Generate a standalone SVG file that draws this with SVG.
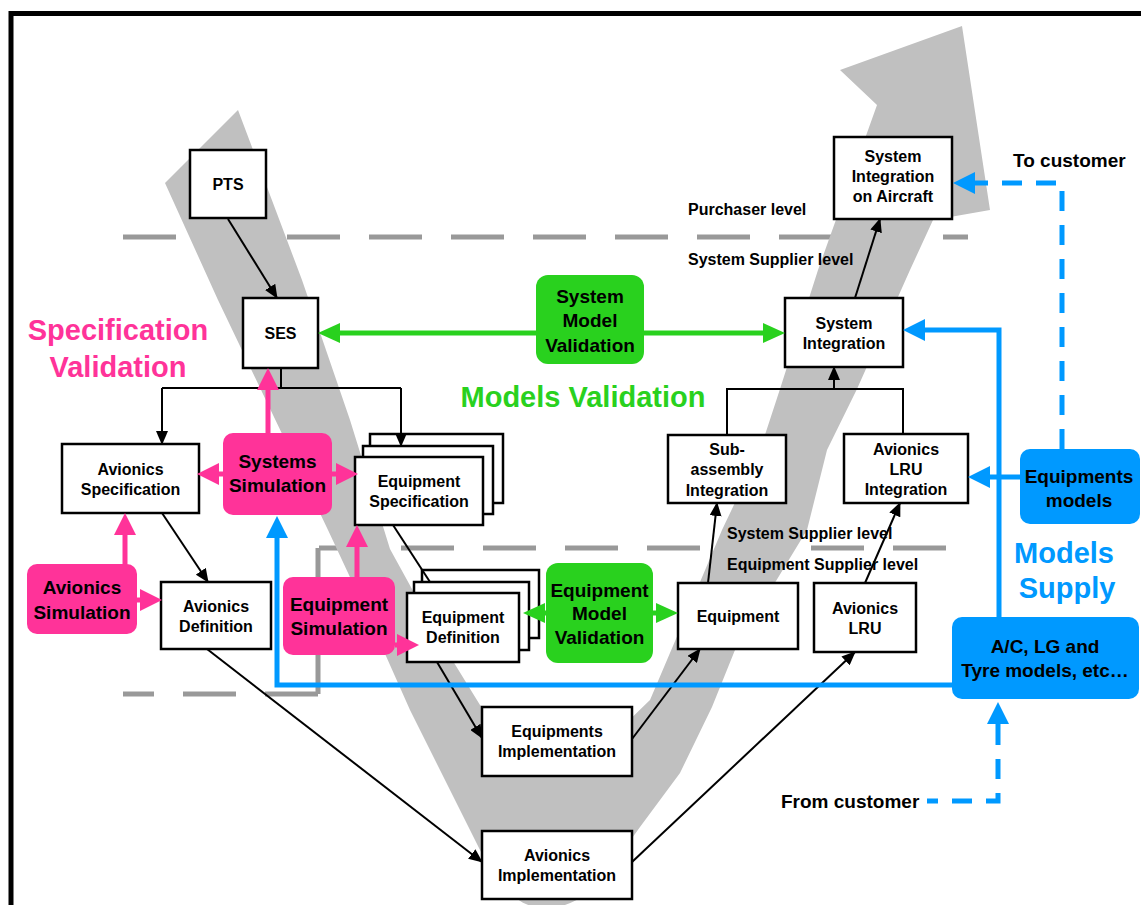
<svg xmlns="http://www.w3.org/2000/svg" width="1141" height="905" viewBox="0 0 1141 905">
<defs>
<style>
.box{fill:#fff;stroke:#000;stroke-width:2.5}
.pk{fill:#ff3399}
.gr{fill:#29d11e}
.bl{fill:#0099ff}
.t{font-family:"Liberation Sans",Arial,Helvetica,sans-serif;font-weight:bold;font-size:16px;text-anchor:middle;fill:#000}
.m{font-size:19px}
.big{font-size:29px}
.st{text-anchor:start}
.c{fill:none;stroke:#000;stroke-width:2}
.cp{fill:none;stroke:#ff3399;stroke-width:5}
.cg{fill:none;stroke:#29d11e;stroke-width:5}
.cb{fill:none;stroke:#0099ff;stroke-width:5}
.cbd{fill:none;stroke:#0099ff;stroke-width:5;stroke-dasharray:20 14}
.gd{fill:none;stroke:#999;stroke-width:5}
</style>
<marker id="ab" markerUnits="userSpaceOnUse" viewBox="0 0 14 12" markerWidth="14" markerHeight="12" refX="13" refY="6" orient="auto"><path d="M0,0 L14,6 L0,12 z" fill="#000"/></marker>
<marker id="ap" markerUnits="userSpaceOnUse" viewBox="0 0 22 22" markerWidth="22" markerHeight="22" refX="12" refY="11" orient="auto"><path d="M0,0 L22,11 L0,22 z" fill="#ff3399"/></marker>
<marker id="ag" markerUnits="userSpaceOnUse" viewBox="0 0 22 22" markerWidth="22" markerHeight="22" refX="12" refY="11" orient="auto"><path d="M0,1 L22,11 L0,21 z" fill="#29d11e"/></marker>
<marker id="abl" markerUnits="userSpaceOnUse" viewBox="0 0 22 22" markerWidth="22" markerHeight="22" refX="12" refY="11" orient="auto"><path d="M0,0 L22,11 L0,22 z" fill="#0099ff"/></marker>
</defs>
<rect width="1141" height="905" fill="#fff"/>
<g id="level-lines">
<path class="gd" d="M123,237 H968" stroke-dasharray="53 29"/>
<path class="gd" d="M946,548 H318" stroke-dasharray="53 29"/>
<path class="gd" d="M318,548 V694"/>
<path class="gd" d="M318,694 H123" stroke-dasharray="53 29"/>
</g>
<path id="v-band" fill="#c0c0c0" d="M165,183 L238,110 L302,280 L350,420 L390,549 L440,640 L480,705 Q525,745 565,772 Q605,745 650,700 L684,620 L722,530 L760,450 L780,389 L818,270 L877,105 L840,70 L962,26 L990,210 L933,220 L910,270 L857,389 L827,450 L807,530 L737,645 L712,707 L680,773 L640,827 L607,873 C590,895 570,908 545,908 C520,908 500,890 480,850 L440,770 L410,710 L370,620 L328,530 L285,440 L218,300 Z"/>
<path id="frame" d="M11,905 V13.5 H1141" fill="none" stroke="#000" stroke-width="5"/>
<g id="labels" class="t">
<text class="t st" x="688" y="215">Purchaser level</text>
<text class="t st" x="688" y="265">System Supplier level</text>
<text class="t st" x="727" y="539">System Supplier level</text>
<text class="t st" x="727" y="570">Equipment Supplier level</text>
<text class="t m st" x="1013" y="167">To customer</text>
<text class="t m st" x="781" y="808">From customer</text>
<text class="t big" x="118" y="340" fill="#ff3399" style="fill:#ff3399">Specification</text>
<text class="t big" x="118" y="377" style="fill:#ff3399">Validation</text>
<text class="t big" x="583" y="407" style="fill:#29d11e">Models Validation</text>
<text class="t big" x="1064" y="563" style="fill:#0099ff">Models</text>
<text class="t big" x="1067" y="598" style="fill:#0099ff">Supply</text>
</g>
<g id="nodes">
<g id="pts"><rect class="box" x="190" y="150" width="76" height="68"/><text class="t" x="228" y="190">PTS</text></g>
<g id="ses"><rect class="box" x="243" y="298" width="75" height="70"/><text class="t" x="280.5" y="339">SES</text></g>
<g id="avionics-spec"><rect class="box" x="62" y="444" width="137" height="69"/><text class="t" x="130.5" y="475">Avionics</text><text class="t" x="130.5" y="495">Specification</text></g>
<g id="systems-sim"><rect class="pk" x="223" y="433" width="109" height="82" rx="10"/><text class="t m" x="277.5" y="468">Systems</text><text class="t m" x="277.5" y="492">Simulation</text></g>
<g id="equipment-spec"><rect class="box" x="370" y="434" width="133" height="69"/><rect class="box" x="363" y="446" width="130" height="68"/><rect class="box" x="355" y="457" width="128" height="68"/><text class="t" x="419" y="487">Equipment</text><text class="t" x="419" y="507">Specification</text></g>
<g id="avionics-sim"><rect class="pk" x="27" y="564" width="110" height="70" rx="10"/><text class="t m" x="82" y="594">Avionics</text><text class="t m" x="82" y="619">Simulation</text></g>
<g id="avionics-def"><rect class="box" x="161" y="582" width="110" height="67"/><text class="t" x="216" y="612">Avionics</text><text class="t" x="216" y="632">Definition</text></g>
<g id="equipment-sim"><rect class="pk" x="283" y="577" width="112" height="78" rx="10"/><text class="t m" x="339" y="611">Equipment</text><text class="t m" x="339" y="635">Simulation</text></g>
<g id="equipment-def"><rect class="box" x="422" y="570" width="117" height="68"/><rect class="box" x="414" y="582" width="115" height="68"/><rect class="box" x="407" y="593" width="112" height="69"/><text class="t" x="463" y="623">Equipment</text><text class="t" x="463" y="643">Definition</text></g>
<g id="equipment-model-validation"><rect class="gr" x="546" y="563" width="107" height="100" rx="12"/><text class="t m" x="599.5" y="597">Equipment</text><text class="t m" x="599.5" y="620">Model</text><text class="t m" x="599.5" y="644">Validation</text></g>
<g id="equipment"><rect class="box" x="678" y="583" width="120" height="66"/><text class="t" x="738" y="622">Equipment</text></g>
<g id="avionics-lru"><rect class="box" x="814" y="583" width="102" height="69"/><text class="t" x="865" y="614">Avionics</text><text class="t" x="865" y="634">LRU</text></g>
<g id="subassembly-int"><rect class="box" x="668" y="435" width="118" height="68"/><text class="t" x="727" y="455">Sub-</text><text class="t" x="727" y="475">assembly</text><text class="t" x="727" y="496">Integration</text></g>
<g id="avionics-lru-int"><rect class="box" x="844" y="434" width="124" height="69"/><text class="t" x="906" y="455">Avionics</text><text class="t" x="906" y="475">LRU</text><text class="t" x="906" y="495">Integration</text></g>
<g id="system-int"><rect class="box" x="785" y="298" width="118" height="69"/><text class="t" x="844" y="329">System</text><text class="t" x="844" y="349">Integration</text></g>
<g id="system-int-aircraft"><rect class="box" x="834" y="137" width="118" height="82"/><text class="t" x="893" y="162">System</text><text class="t" x="893" y="182">Integration</text><text class="t" x="893" y="202">on Aircraft</text></g>
<g id="system-model-validation"><rect class="gr" x="536" y="275" width="108" height="89" rx="12"/><text class="t m" x="590" y="303">System</text><text class="t m" x="590" y="327">Model</text><text class="t m" x="590" y="352">Validation</text></g>
<g id="equipments-models"><rect class="bl" x="1020" y="449" width="120" height="75" rx="10"/><text class="t m" x="1079" y="483">Equipments</text><text class="t m" x="1079" y="507">models</text></g>
<g id="ac-models"><rect class="bl" x="952" y="617" width="187" height="82" rx="10"/><text class="t m" x="1045" y="653">A/C, LG and</text><text class="t m" x="1045" y="677">Tyre models, etc…</text></g>
<g id="equipments-impl"><rect class="box" x="482" y="707" width="150" height="69"/><text class="t" x="557" y="737">Equipments</text><text class="t" x="557" y="757">Implementation</text></g>
<g id="avionics-impl"><rect class="box" x="482" y="831" width="150" height="68"/><text class="t" x="557" y="861">Avionics</text><text class="t" x="557" y="881">Implementation</text></g>
</g>
<g id="connectors">
<path class="c" d="M228,219 L277,298" marker-end="url(#ab)"/>
<path class="c" d="M281,368 V388 M162,388 H401"/>
<path class="c" d="M162,388 V444" marker-end="url(#ab)"/>
<path class="c" d="M401,388 V446" marker-end="url(#ab)"/>
<path class="c" d="M162,513 L208,582" marker-end="url(#ab)"/>
<path class="c" d="M393,525 L430,582"/>
<path class="c" d="M207,649 L482,862" marker-end="url(#ab)"/>
<path class="c" d="M437,662 L482,738" marker-end="url(#ab)"/>
<path class="c" d="M632,739 L700,649" marker-end="url(#ab)"/>
<path class="c" d="M632,862 L855,652" marker-end="url(#ab)"/>
<path class="c" d="M708,583 L717,503" marker-end="url(#ab)"/>
<path class="c" d="M865,583 L900,503" marker-end="url(#ab)"/>
<path class="c" d="M727,435 V389 H903 V434"/>
<path class="c" d="M834,389 V367" marker-end="url(#ab)"/>
<path class="c" d="M855,298 L880,219" marker-end="url(#ab)"/>
<path class="cg" d="M536,333 H328" marker-end="url(#ag)"/>
<path class="cg" d="M644,333 H775" marker-end="url(#ag)"/>
<path class="cg" d="M546,613 H533" marker-end="url(#ag)"/>
<path class="cg" d="M653,613 H668" marker-end="url(#ag)"/>
<path class="cp" d="M268,433 V378" marker-end="url(#ap)"/>
<path class="cp" d="M223,474 H207" marker-end="url(#ap)"/>
<path class="cp" d="M332,474 H348" marker-end="url(#ap)"/>
<path class="cp" d="M125,564 V523" marker-end="url(#ap)"/>
<path class="cp" d="M137,600 H152" marker-end="url(#ap)"/>
<path class="cp" d="M357,577 V535" marker-end="url(#ap)"/>
<path class="cp" d="M395,645 H409" marker-end="url(#ap)"/>
<path class="cb" d="M952,685 H277 V526" marker-end="url(#abl)"/>
<path class="cb" d="M999,617 V330 H913" marker-end="url(#abl)"/>
<path class="cb" d="M1020,477 H978" marker-end="url(#abl)"/>
<path class="cbd" d="M1062,449 V183 H963" marker-end="url(#abl)"/>
<path class="cb" d="M998,712 V725" marker-end="url(#abl)" transform="rotate(180 998 718.5)"/>
<path class="cbd" d="M998,725 V801 H927" stroke-dasharray="22 13"/>
</g>
</svg>
